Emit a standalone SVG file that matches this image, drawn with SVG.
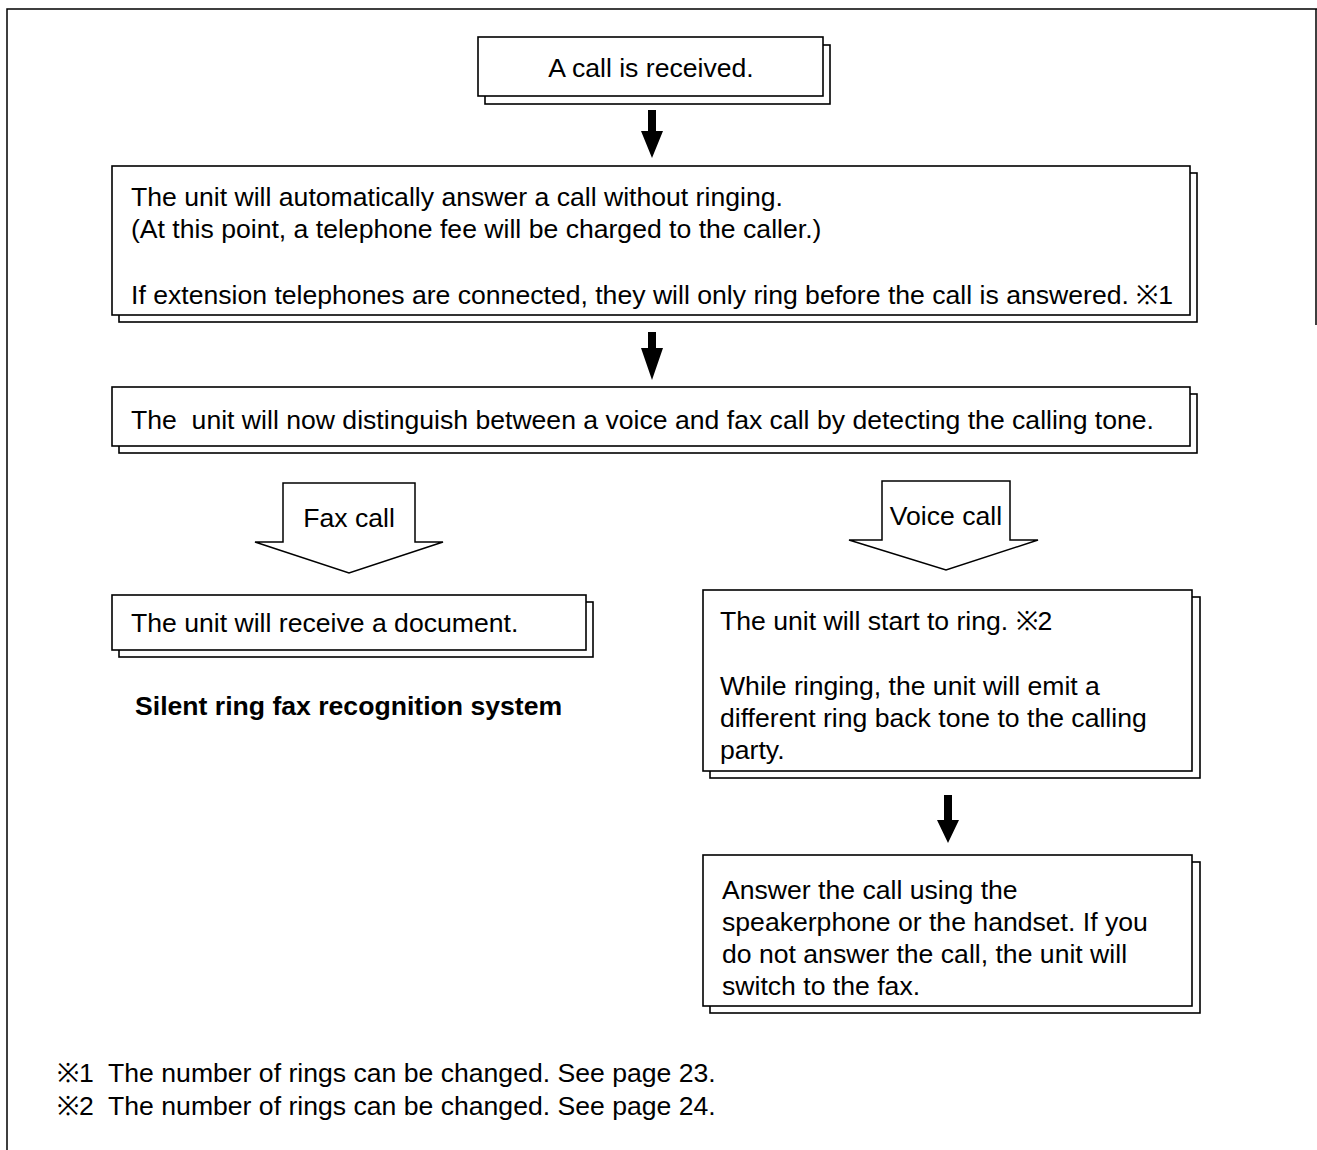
<svg xmlns="http://www.w3.org/2000/svg" width="1317" height="1150" viewBox="0 0 1317 1150">
<style>
text{font-family:"Liberation Sans",Arial,Helvetica,sans-serif;font-size:26.6px;fill:#000;white-space:pre}
.b{font-weight:bold}
.box{fill:#fff;stroke:#000;stroke-width:1.6}
.sh{fill:#fff;stroke:#000;stroke-width:1.6}
.frame{fill:none;stroke:#000;stroke-width:1.5}
.solid{fill:#000;stroke:none}
.hollow{fill:#fff;stroke:#000;stroke-width:1.5;stroke-linejoin:miter}
</style>
<rect width="1317" height="1150" fill="#fff"/>
<path class="frame" d="M7,1150 V9 H1317 M1316,9 V325"/>

<g id="n1">
<rect class="sh" x="485" y="45" width="345" height="59"/>
<rect class="box" x="478" y="37" width="345" height="59"/>
<text x="651" y="77" text-anchor="middle">A call is received.</text>
</g>

<g id="n2">
<rect class="sh" x="119" y="173" width="1078" height="149"/>
<rect class="box" x="112" y="166" width="1078" height="149"/>
<text x="131" y="206">The unit will automatically answer a call without ringing.</text>
<text x="131" y="238">(At this point, a telephone fee will be charged to the caller.)</text>
<text x="131" y="304">If extension telephones are connected, they will only ring before the call is answered. ※1</text>
</g>

<g id="n3">
<rect class="sh" x="119" y="394" width="1078" height="59"/>
<rect class="box" x="112" y="387" width="1078" height="59"/>
<text x="131" y="429">The  unit will now distinguish between a voice and fax call by detecting the calling tone.</text>
</g>

<g id="n4">
<rect class="sh" x="119" y="602" width="474" height="55"/>
<rect class="box" x="112" y="595" width="474" height="55"/>
<text x="131" y="632">The unit will receive a document.</text>
</g>

<g id="n5">
<text class="b" x="135" y="715">Silent ring fax recognition system</text>
</g>

<g id="n6">
<rect class="sh" x="710" y="597" width="490" height="181"/>
<rect class="box" x="703" y="590" width="489" height="181"/>
<text x="720" y="630">The unit will start to ring. ※2</text>
<text x="720" y="695">While ringing, the unit will emit a</text>
<text x="720" y="727">different ring back tone to the calling</text>
<text x="720" y="759">party.</text>
</g>

<g id="n7">
<rect class="sh" x="710" y="862" width="490" height="151"/>
<rect class="box" x="703" y="855" width="489" height="151"/>
<text x="722" y="899">Answer the call using the</text>
<text x="722" y="931">speakerphone or the handset. If you</text>
<text x="722" y="963">do not answer the call, the unit will</text>
<text x="722" y="995">switch to the fax.</text>
</g>

<g id="n8">
<text x="57" y="1082">※1  The number of rings can be changed. See page 23.</text>
<text x="57" y="1115">※2  The number of rings can be changed. See page 24.</text>
</g>

<g id="connectors">
<polygon class="solid" points="648,110 656,110 656,131 663,131 652,158 641,131 648,131"/>
<polygon class="solid" points="648,332 656,332 656,348 663,348 652,380 641,348 648,348"/>
<polygon class="solid" points="944,795 952,795 952,820 959,820 948,843 937,820 944,820"/>
<g id="fax-arrow">
<polygon class="hollow" points="283,483 415,483 415,542 443,542 349,573 255,542 283,542"/>
<text x="349" y="527" text-anchor="middle">Fax call</text>
</g>
<g id="voice-arrow">
<polygon class="hollow" points="882,481 1010,481 1010,540 1038,540 946,570 849,540 882,540"/>
<text x="946" y="525" text-anchor="middle">Voice call</text>
</g>
</g>
</svg>
